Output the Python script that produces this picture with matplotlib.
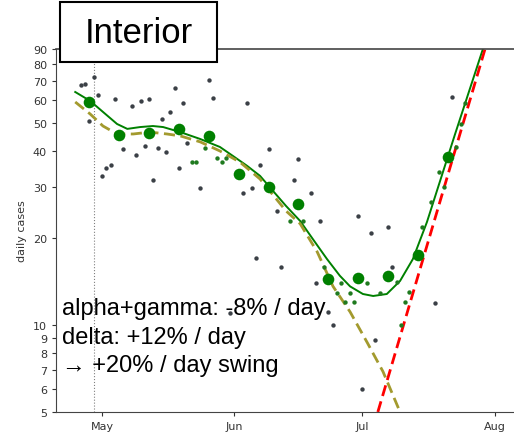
import matplotlib.pyplot as plt
import numpy as np

# x values are days counted from 1 May
daily_day = [-5, -4, -3, -2, -1, 0, 1, 2, 3, 5, 7, 8, 9, 10, 11, 12, 13, 14, 15, 16,
             17, 18, 19, 20, 23, 25, 26, 30, 33, 34, 35, 36, 37, 39, 41, 42, 45, 46,
             49, 50, 51, 53, 54, 60, 61, 63, 64, 67, 68, 78, 82]
daily_cases = [67.6, 68.2, 50.8, 72.2, 62.5, 32.8, 34.9, 35.8, 60.5, 40.6, 57.2, 38.7,
               59.6, 41.6, 60.5, 31.8, 41.0, 51.6, 39.7, 54.6, 66.1, 34.9, 58.6, 42.6,
               29.8, 70.5, 61.0, 11.0, 28.6, 58.6, 29.8, 17.1, 35.8, 40.6, 24.8, 15.9,
               31.8, 37.5, 28.6, 14.0, 22.9, 11.1, 10.0, 23.8, 6.0, 20.8, 8.9, 21.8,
               15.9, 11.9, 61.5]

seq_day = [21, 22, 24, 27, 28, 29, 44, 47, 52, 55, 56, 57, 58, 59, 62, 65, 69, 70, 71,
           72, 75, 77, 79, 80, 83, 84, 85]
seq_cases = [36.6, 36.6, 41.0, 37.8, 36.6, 37.8, 22.9, 22.9, 15.9, 12.9, 14.0, 12.0,
             12.9, 12.0, 14.0, 12.9, 14.1, 10.0, 12.0, 13.0, 21.8, 26.7, 33.8, 30.0,
             41.3, 49.6, 58.6]

weekly_day = [-3, 4, 11, 18, 25, 32, 39, 46, 53, 60, 67, 74, 81]
weekly_cases = [59.1, 45.4, 46.2, 47.7, 45.1, 33.3, 30.0, 26.2, 14.4, 14.5, 14.8, 17.5, 38.1]

smooth_day = [-6.3, -2.8, 0.2, 3.5, 5.9, 8.9, 11.9, 14.3, 18.3, 23.0, 27.6, 30.7, 34.0,
              37.0, 39.6, 43.1, 46.4, 49.4, 52.7, 55.7, 58.1, 61.1, 63.5, 66.7, 69.8,
              72.8, 76.1, 82.7, 89.2]
smooth_cases = [64.0, 59.6, 54.6, 49.6, 47.7, 48.4, 48.8, 48.4, 46.5, 44.0, 41.3, 38.4,
                35.5, 32.8, 29.6, 25.8, 22.9, 19.8, 16.9, 14.8, 13.6, 12.8, 12.6, 12.8,
                14.2, 16.9, 22.7, 45.8, 90.0]

old_day = [-6.3, -2.8, 0.2, 3.5, 7.3, 11.2, 15.2, 18.3, 23.0, 27.6, 32.3, 37.0, 43.1,
           46.4, 50.4, 54.1, 58.1, 62.1, 65.8, 69.8]
old_cases = [59.1, 53.7, 48.8, 45.8, 45.8, 46.5, 45.8, 45.1, 43.0, 40.0, 36.6, 32.0,
             24.8, 22.4, 17.9, 13.6, 11.1, 8.7, 6.9, 5.0]

delta_day = [64.6, 89.7]
delta_cases = [5.0, 90.0]

vline_day = -2
month_ticks = [0, 31, 61, 92]
month_labels = ["May", "Jun", "Jul", "Aug"]
ytick_vals = [5, 6, 7, 8, 9, 10, 20, 30, 40, 50, 60, 70, 80, 90]

fig = plt.figure(figsize=(5.14, 4.35), dpi=100)
ax = fig.add_axes([0.109, 0.0506, 0.891, 0.834])

ax.scatter(daily_day, daily_cases, s=10, color="#3b4046", zorder=3, linewidths=0)
ax.scatter(seq_day, seq_cases, s=10, color="#1f7a1f", zorder=3, linewidths=0)
ax.scatter(weekly_day, weekly_cases, s=70, color="green", zorder=4, linewidths=0)

ax.plot(smooth_day, smooth_cases, color="green", lw=1.4, zorder=2)
ax.plot(old_day, old_cases, color="#a39a2e", lw=2.0, ls=(0, (4, 2)), zorder=2)
ax.plot(delta_day, delta_cases, color="red", lw=2.0, ls=(0, (4, 2)), zorder=2)
ax.axvline(vline_day, color="gray", lw=0.8, ls=":", zorder=1)

ax.set_yscale("log")
ax.set_ylim(5, 90)
ax.set_xlim(-10.8, 96.5)
ax.set_yticks(ytick_vals)
ax.set_yticklabels([str(v) for v in ytick_vals])
ax.yaxis.set_minor_locator(plt.NullLocator())
ax.set_xticks(month_ticks)
ax.set_xticklabels(month_labels)
ax.tick_params(labelsize=8, colors="#333333", length=3)
ax.set_ylabel("daily cases", fontsize=8, color="#333333", labelpad=4)

for side in ["left", "bottom", "top"]:
    ax.spines[side].set_color("#444444")
ax.spines["top"].set_linewidth(1.2)
ax.spines["right"].set_visible(False)

# region label in a boxed header
fig.patches.append(plt.Rectangle((0.1167, 0.855), 0.3055, 0.138, transform=fig.transFigure,
                                 facecolor="white", edgecolor="black", lw=1.5, zorder=5))
fig.text(0.2695, 0.924, "Interior", fontsize=25, family=["Liberation Sans", "DejaVu Sans"],
         ha="center", va="center", zorder=6)

notes = ["alpha+gamma: -8% / day", "delta: +12% / day", "\u2192 +20% / day swing"]
note_y = [0.2759, 0.2092, 0.1448]
for txt, yy in zip(notes, note_y):
    fig.text(0.1206, yy, txt, fontsize=17, family=["Liberation Sans", "DejaVu Sans"],
             ha="left", va="baseline", zorder=6)

fig.savefig("out.png", dpi=100)
